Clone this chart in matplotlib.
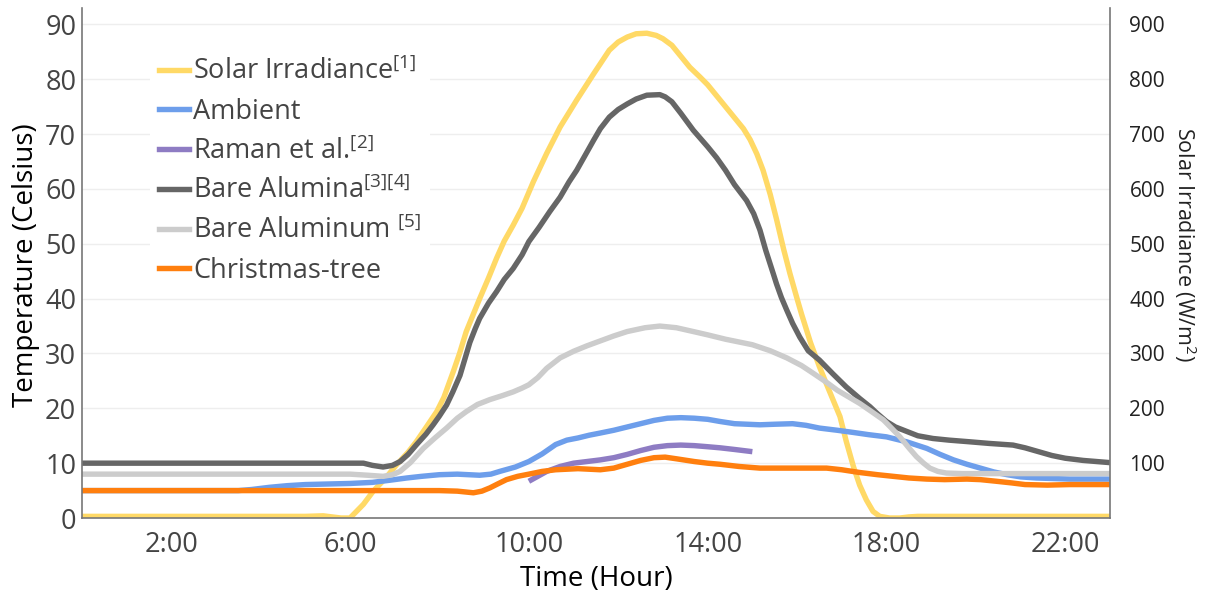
import matplotlib
matplotlib.use("Agg")
from matplotlib import pyplot as plt
from matplotlib.lines import Line2D

plt.rcParams["font.family"] = "Open Sans"
plt.rcParams["mathtext.fontset"] = "custom"
plt.rcParams["mathtext.rm"] = "Open Sans"
plt.rcParams["text.color"] = "#444444"

# hours of the day (decimal) and readings for each series
solar_hours = [0, 1, 2, 3, 4, 5.0, 5.4, 5.8, 6.0, 6.3, 6.52, 6.8, 7.04, 7.3, 7.49, 7.7,
               7.94, 8.1, 8.31, 8.45, 8.6, 8.75, 8.9, 9.1, 9.28, 9.45, 9.65, 9.85, 10.1,
               10.4, 10.7, 11.07, 11.45, 11.8, 12.0, 12.2, 12.4, 12.64, 12.85, 13.0, 13.2,
               13.38, 13.6, 13.83, 14.0, 14.2, 14.4, 14.6, 14.8, 14.95, 15.1, 15.24, 15.4,
               15.54, 15.7, 15.84, 16.0, 16.1, 16.3, 16.5, 16.7, 16.96, 17.1, 17.26, 17.4,
               17.55, 17.7, 17.85, 18.07, 18.3, 18.5, 18.7, 19, 20, 21, 22, 23]
solar_wm2 = [3, 3, 3, 3, 3, 3, 4, 0, 0, 25, 49, 73, 97, 120, 140, 165,
             194, 220, 267, 300, 340, 370, 400, 438, 474, 505, 534, 565, 613,
             665, 713, 762, 810, 853, 868, 877, 883, 884, 880, 874, 862,
             844, 822, 804, 790, 770, 750, 730, 710, 690, 664, 634, 590,
             545, 490, 446, 400, 372, 320, 276, 236, 185, 140, 94, 60,
             33, 12, 3, 0, 0, 2, 3, 3, 3, 3, 3, 3]

ambient_hours = [0, 1, 2, 3, 3.5, 3.8, 4.2, 4.6, 5.0, 5.5, 6.0, 6.5, 6.9, 7.27, 7.6, 8.0,
                 8.4, 8.9, 9.15, 9.35, 9.7, 10.0, 10.3, 10.6, 10.85, 11.1, 11.35, 11.6,
                 11.9, 12.2, 12.5, 12.8, 13.1, 13.4, 13.7, 14.0, 14.28, 14.6, 15.17, 15.5,
                 15.9, 16.2, 16.5, 16.9, 17.26, 17.6, 18.0, 18.45, 18.9, 19.2, 19.5, 19.8,
                 20.1, 20.4, 20.7, 21.0, 21.35, 22.1, 23]
ambient_temp = [5.0, 5.0, 5.0, 5.0, 5.0, 5.2, 5.6, 5.9, 6.1, 6.2, 6.3, 6.5, 6.9, 7.3, 7.6, 7.9,
                8.0, 7.8, 8.0, 8.5, 9.3, 10.3, 11.7, 13.4, 14.2, 14.6, 15.1, 15.5,
                16.0, 16.6, 17.2, 17.8, 18.2, 18.3, 18.2, 18.0, 17.6, 17.2, 17.0, 17.1,
                17.2, 16.9, 16.4, 16.0, 15.6, 15.2, 14.8, 13.9, 12.7, 11.6, 10.6, 9.8,
                9.1, 8.4, 7.9, 7.5, 7.3, 7.1, 7.1]

raman_hours = [10.0, 10.2, 10.4, 10.7, 11.0, 11.3, 11.6, 11.9, 12.2, 12.5, 12.8, 13.1,
               13.4, 13.7, 14.0, 14.28, 14.6, 15.0]
raman_temp = [6.7, 7.6, 8.5, 9.4, 10.0, 10.3, 10.6, 11.0, 11.6, 12.3, 12.9, 13.2,
              13.3, 13.2, 13.0, 12.8, 12.5, 12.1]

alumina_hours = [0, 2, 4, 6, 6.3, 6.5, 6.74, 6.95, 7.12, 7.3, 7.49, 7.7, 7.86, 8.0, 8.16,
                 8.3, 8.46, 8.57, 8.68, 8.8, 8.9, 9.1, 9.28, 9.45, 9.65, 9.85, 10.0, 10.23,
                 10.47, 10.7, 10.9, 11.07, 11.25, 11.45, 11.6, 11.8, 12.0, 12.2, 12.4,
                 12.64, 12.93, 13.05, 13.2, 13.4, 13.68, 14.0, 14.2, 14.4, 14.6, 14.87,
                 15.03, 15.17, 15.3, 15.47, 15.54, 15.65, 15.77, 15.9, 16.06, 16.25, 16.5,
                 16.8, 17.1, 17.4, 17.63, 17.8, 18.0, 18.2, 18.45, 18.7, 19.04, 19.4,
                 19.86, 20.3, 20.83, 21.1, 21.4, 21.7, 22.0, 22.4, 23]
alumina_temp = [10, 10, 10, 10, 10, 9.6, 9.3, 9.6, 10.3, 11.6, 13.4, 15.3, 17, 18.6, 20.6,
                23, 26, 29, 32, 34.5, 36.4, 39.2, 41.3, 43.5, 45.5, 48, 50.4, 53,
                55.9, 58.5, 61.3, 63.4, 66, 68.9, 71, 73.1, 74.5, 75.5, 76.4,
                77.1, 77.2, 76.8, 75.9, 73.8, 70.7, 67.7, 65.7, 63.4, 60.8, 57.9,
                55.5, 52.5, 48.8, 44.5, 42.7, 40.2, 37.9, 35.5, 33, 30.5, 28.8,
                26.3, 23.9, 21.8, 20.3, 19, 17.6, 16.6, 15.8, 15.0, 14.5, 14.2,
                13.9, 13.6, 13.3, 12.8, 12.1, 11.4, 10.9, 10.5, 10.1]

aluminum_hours = [0, 2, 4, 6.0, 6.4, 6.74, 6.95, 7.12, 7.35, 7.64, 7.9, 8.16, 8.4, 8.6,
                  8.85, 9.13, 9.4, 9.65, 9.85, 10.0, 10.2, 10.4, 10.7, 11.0, 11.3, 11.6,
                  11.9, 12.2, 12.6, 12.93, 13.3, 13.68, 14.0, 14.4, 15.0, 15.4, 15.77,
                  16.1, 16.36, 16.65, 16.9, 17.15, 17.4, 17.65, 17.93, 18.1, 18.3, 18.5,
                  18.67, 18.83, 18.97, 19.15, 19.34, 19.7, 20.2, 23]
aluminum_temp = [8, 8, 8, 8, 7.8, 7.6, 7.9, 8.5, 10.1, 12.7, 14.6, 16.4, 18.2, 19.4,
                 20.7, 21.6, 22.3, 23, 23.7, 24.3, 25.6, 27.3, 29.2, 30.4, 31.4, 32.3,
                 33.2, 34, 34.7, 35, 34.7, 34, 33.4, 32.6, 31.6, 30.5, 29.2,
                 27.8, 26.4, 24.8, 23.3, 22.1, 20.9, 19.5, 17.9, 16.5, 14.8, 12.8,
                 11.2, 10, 9.1, 8.5, 8.2, 8.1, 8.1, 8.1]

xmas_hours = [0, 2, 4, 6, 7.5, 8.0, 8.4, 8.76, 8.95, 9.13, 9.3, 9.5, 9.75, 10.0, 10.3,
              10.6, 11.1, 11.6, 11.9, 12.2, 12.5, 12.8, 13.05, 13.3, 13.7, 14.0, 14.28,
              14.7, 15.17, 15.9, 16.66, 17.0, 17.4, 17.8, 18.15, 18.5, 18.9, 19.3, 19.8,
              20.1, 20.46, 20.8, 21.1, 21.6, 22.1, 23]
xmas_temp = [5.0, 5.0, 5.0, 5.0, 5.0, 5.0, 4.9, 4.6, 4.9, 5.5, 6.2, 7.0, 7.6, 8.0, 8.5,
             8.8, 9.0, 8.8, 9.1, 9.8, 10.5, 11.0, 11.1, 10.8, 10.3, 10.0, 9.8,
             9.4, 9.1, 9.1, 9.1, 8.8, 8.3, 7.9, 7.6, 7.3, 7.1, 7.0, 7.1,
             7.0, 6.7, 6.4, 6.1, 6.0, 6.1, 6.1]

hour_ticks = [2, 6, 10, 14, 18, 22]
hour_labels = ["2:00", "6:00", "10:00", "14:00", "18:00", "22:00"]
temp_ticks = [0, 10, 20, 30, 40, 50, 60, 70, 80, 90]
irr_ticks = [100, 200, 300, 400, 500, 600, 700, 800, 900]

C_SOLAR = "#ffd966"
C_AMB = "#6d9eeb"
C_RAMAN = "#8e7cc3"
C_ALUMINA = "#666666"
C_ALUMINUM = "#cccccc"
C_XMAS = "#ff7f0e"
LW = 3.9

fig = plt.figure(figsize=(12.06, 5.97), dpi=100)
ax = fig.add_axes([0.0678, 0.1323, 0.8526, 0.8543])
ax2 = ax.twinx()
# temperature axes sits above the irradiance axes, grid lives underneath
ax.set_zorder(ax2.get_zorder() + 1)
ax.patch.set_visible(False)

line_kw = dict(lw=LW, solid_capstyle="butt", solid_joinstyle="round")
ax2.plot(solar_hours, solar_wm2, color=C_SOLAR, **line_kw)
ax.plot(ambient_hours, ambient_temp, color=C_AMB, **line_kw)
ax.plot(raman_hours, raman_temp, color=C_RAMAN, **line_kw)
ax.plot(alumina_hours, alumina_temp, color=C_ALUMINA, **line_kw)
ax.plot(aluminum_hours, aluminum_temp, color=C_ALUMINUM, **line_kw)
ax.plot(xmas_hours, xmas_temp, color=C_XMAS, **line_kw)

ax.set_xlim(0, 23)
ax.set_ylim(0, 93)
ax2.set_ylim(0, 930)

ax.set_xticks(hour_ticks)
ax.set_xticklabels(hour_labels)
ax.set_yticks(temp_ticks)
ax2.set_yticks(irr_ticks)

ax.tick_params(axis="both", length=0, labelsize=19.5, colors="#444444")
ax.tick_params(axis="x", pad=9)
ax.tick_params(axis="y", pad=4)
ax2.tick_params(axis="y", length=0, labelsize=15, colors="#222222", pad=14)

ax.grid(False)
ax2.grid(True, color="#eeeeee", lw=1)
ax2.xaxis.grid(True, color="#eeeeee", lw=1)
ax2.set_axisbelow(True)

for side in ("top", "right", "left", "bottom"):
    ax2.spines[side].set_visible(False)
ax.spines["top"].set_visible(False)
for side in ("left", "right", "bottom"):
    ax.spines[side].set_color("#777777")
    ax.spines[side].set_linewidth(1.2)

ax.set_xlabel("Time (Hour)", fontsize=20, labelpad=5)
ax.set_ylabel("Temperature (Celsius)", fontsize=20)
ax.yaxis.set_label_coords(-0.041, 0.496)
fig.text(0.9826, 0.591, "Solar Irradiance (W/m$^2$)", fontsize=15.5, rotation=-90,
         ha="center", va="center", color="#222222")

handles = [Line2D([], [], color=c, lw=LW) for c in
           (C_SOLAR, C_AMB, C_RAMAN, C_ALUMINA, C_ALUMINUM, C_XMAS)]
labels = [
    r"Solar Irradiance$^{\mathregular{[1]}}$",
    "Ambient",
    r"Raman et al.$^{\mathregular{[2]}}$",
    r"Bare Alumina$^{\mathregular{[3][4]}}$",
    r"Bare Aluminum $^{\mathregular{[5]}}$",
    "Christmas-tree",
]
leg = ax.legend(handles, labels, loc="upper left", bbox_to_anchor=(0.066, 0.921),
                fontsize=19.5, frameon=True, fancybox=False, framealpha=1,
                edgecolor="none", handlelength=1.1, handletextpad=0.15,
                labelspacing=0.42, borderpad=0.35, borderaxespad=0)
for t in leg.get_texts():
    t.set_color("#444444")

fig.savefig("out.png", dpi=100)
